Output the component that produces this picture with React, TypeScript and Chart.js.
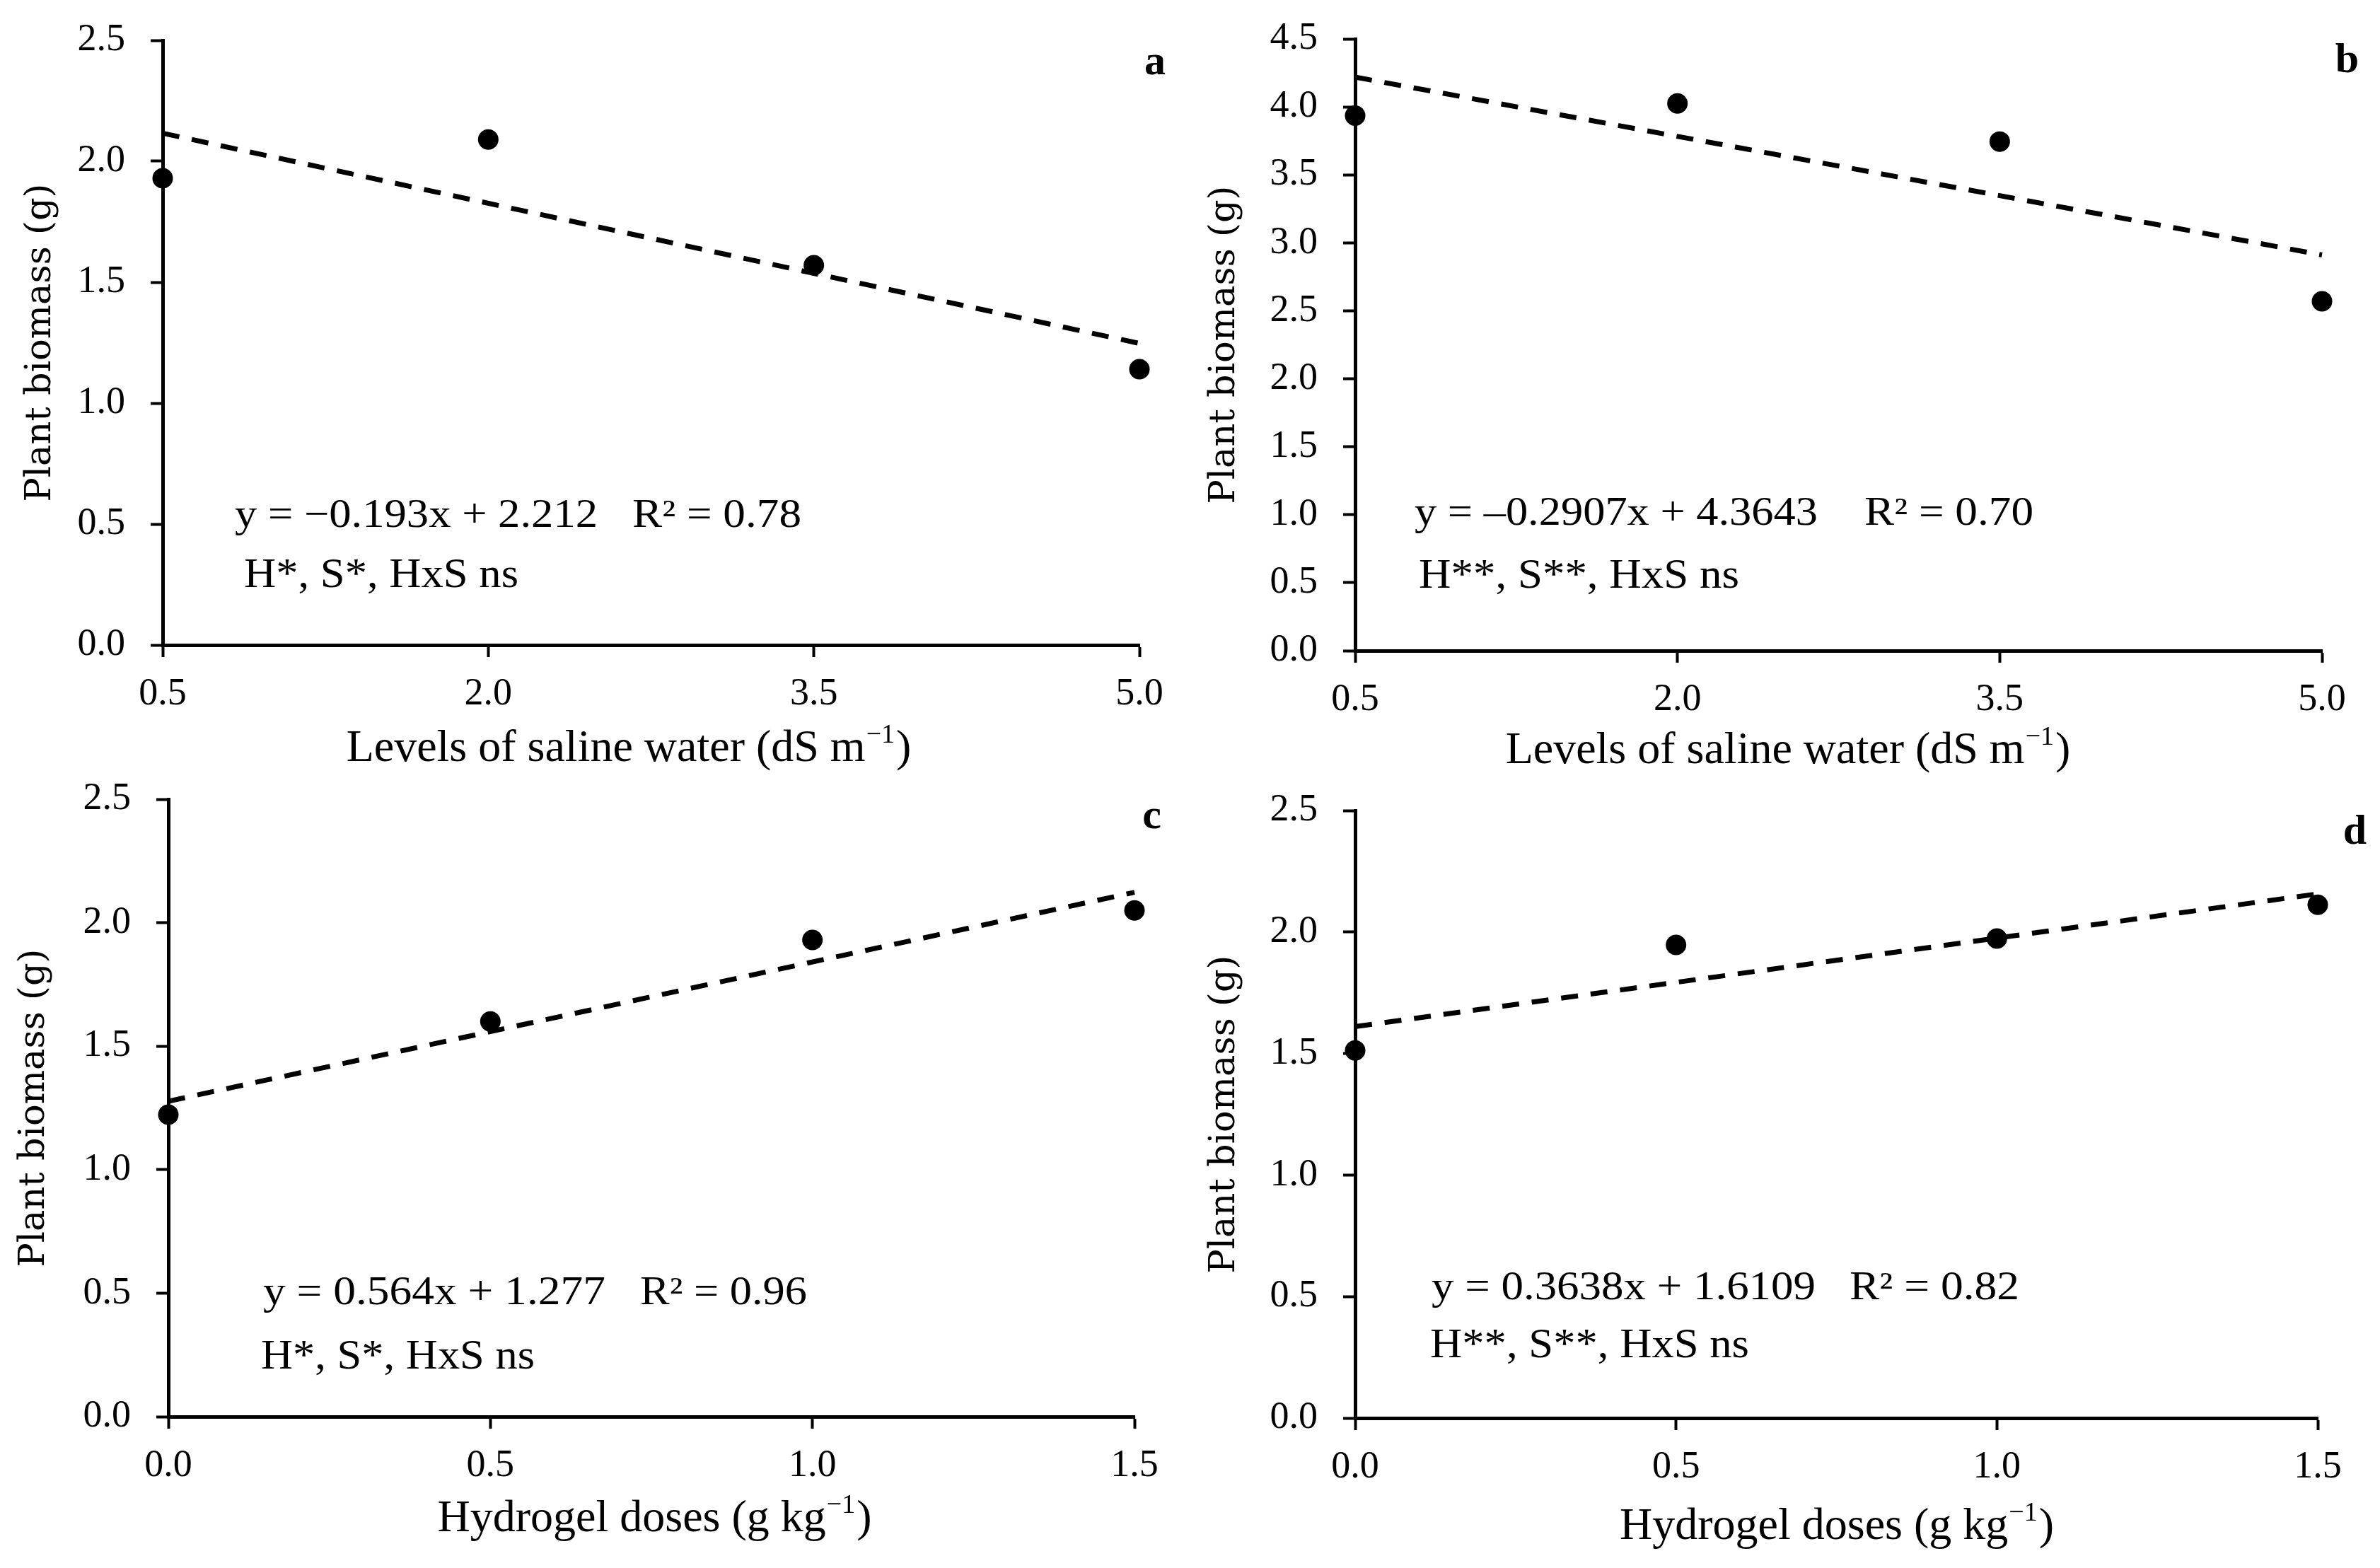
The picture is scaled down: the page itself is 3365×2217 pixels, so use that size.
import Chart from "chart.js/auto";
import { useEffect, useRef } from "react";

const SERIF = "'Liberation Serif', 'Times New Roman', serif";
Chart.defaults.font.family = SERIF;
Chart.defaults.color = "#000";

// saline water levels (panels a, b)
const salineLevels = [0.5, 2.0, 3.5, 5.0];
const biomassA = [1.93, 2.09, 1.57, 1.14];
const biomassB = [3.935, 4.025, 3.745, 2.57];
// dashed fit, read at the first and last level
const trendA = [2.116, 1.247];
const trendB = [4.219, 2.911];

// hydrogel doses (panels c, d)
const hydrogelDoses = [0.0, 0.5, 1.0, 1.5];
const biomassC = [1.223, 1.60, 1.93, 2.05];
const biomassD = [1.513, 1.947, 1.973, 2.112];
const trendC = [1.277, 2.123];
const trendD = [1.611, 2.157];

const yTicksLow = [0, 0.5, 1.0, 1.5, 2.0, 2.5];
const yTicksHigh = [0, 0.5, 1.0, 1.5, 2.0, 2.5, 3.0, 3.5, 4.0, 4.5];

const equations = [
  "y = −0.193x + 2.212",
  "y = –0.2907x + 4.3643",
  "y = 0.564x + 1.277",
  "y = 0.3638x + 1.6109",
];
const r2Labels = ["R² = 0.78", "R² = 0.70", "R² = 0.96", "R² = 0.82"];
const signifLabels = [
  "H*, S*, HxS ns",
  "H**, S**, HxS ns",
  "H*, S*, HxS ns",
  "H**, S**, HxS ns",
];
const panelLetters = ["a", "b", "c", "d"];

type PanelSpec = {
  idx: number;
  box: { left: number; top: number; width: number; height: number };
  area: { left: number; top: number; right: number; axisH: number };
  xs: number[];
  ys: number[];
  trend: number[];
  yTicks: number[];
  yMax: number;
  xTitle: [string, string, string];
  xTitleDx: number;
  xTitleDy: number;
  yTitlePad: number;
  // offsets from the chart area's top-left, and drawn widths
  eq: { x: number; y: number; w: number; r2x: number; r2w: number; sx: number; sy: number; sw: number };
  letter: { dx: number; dy: number };
};

const salineTitle: [string, string, string] = ["Levels of saline water (dS m", "−1", ")"];
const hydrogelTitle: [string, string, string] = ["Hydrogel doses (g kg", "−1", ")"];

const panels: PanelSpec[] = [
  {
    idx: 0,
    box: { left: 0, top: 0, width: 1680, height: 1100 },
    area: { left: 230, top: 57, right: 69, axisH: 188 },
    xs: salineLevels,
    ys: biomassA,
    trend: trendA,
    yTicks: yTicksLow,
    yMax: 2.5,
    xTitle: salineTitle,
    xTitleDx: -32,
    xTitleDy: 164,
    yTitlePad: 27,
    eq: { x: 102, y: 688, w: 513, r2x: 664, r2w: 239, sx: 115, sy: 773, sw: 388 },
    letter: { dx: 37, dy: 48 },
  },
  {
    idx: 1,
    box: { left: 1680, top: 0, width: 1685, height: 1100 },
    area: { left: 236, top: 55, right: 82, axisH: 180 },
    xs: salineLevels,
    ys: biomassB,
    trend: trendB,
    yTicks: yTicksHigh,
    yMax: 4.5,
    xTitle: salineTitle,
    xTitleDx: -72,
    xTitleDy: 159,
    yTitlePad: 21,
    eq: { x: 84, y: 687, w: 570, r2x: 720, r2w: 239, sx: 90, sy: 776, sw: 453 },
    letter: { dx: 52, dy: 47 },
  },
  {
    idx: 2,
    box: { left: 0, top: 1100, width: 1680, height: 1117 },
    area: { left: 238, top: 30, right: 76, axisH: 214 },
    xs: hydrogelDoses,
    ys: biomassC,
    trend: trendC,
    yTicks: yTicksLow,
    yMax: 2.5,
    xTitle: hydrogelTitle,
    xTitleDx: 4,
    xTitleDy: 162,
    yTitlePad: 18,
    eq: { x: 134, y: 714, w: 484, r2x: 667, r2w: 236, sx: 131, sy: 805, sw: 387 },
    letter: { dx: 38, dy: 41 },
  },
  {
    idx: 3,
    box: { left: 1680, top: 1100, width: 1685, height: 1117 },
    area: { left: 236, top: 46, right: 88, axisH: 212 },
    xs: hydrogelDoses,
    ys: biomassD,
    trend: trendD,
    yTicks: yTicksLow,
    yMax: 2.5,
    xTitle: hydrogelTitle,
    xTitleDx: 0,
    xTitleDy: 171,
    yTitlePad: 21,
    eq: { x: 108, y: 691, w: 543, r2x: 699, r2w: 240, sx: 106, sy: 773, sw: 451 },
    letter: { dx: 69, dy: 47 },
  },
];

function fillFitted(
  ctx: CanvasRenderingContext2D,
  text: string,
  x: number,
  y: number,
  font: string,
  width: number,
) {
  ctx.font = font;
  const w = ctx.measureText(text).width || 1;
  ctx.save();
  ctx.translate(x, y);
  ctx.scale(width / w, 1);
  ctx.fillText(text, 0, 0);
  ctx.restore();
}

function drawSupTitle(
  ctx: CanvasRenderingContext2D,
  parts: [string, string, string],
  cx: number,
  baseline: number,
  size: number,
) {
  const big = `${size}px ${SERIF}`;
  const small = `${Math.round(size * 0.6)}px ${SERIF}`;
  ctx.font = big;
  const w1 = ctx.measureText(parts[0]).width;
  const w3 = ctx.measureText(parts[2]).width;
  ctx.font = small;
  const w2 = ctx.measureText(parts[1]).width + 2;
  let x = cx - (w1 + w2 + w3) / 2;
  ctx.textAlign = "left";
  ctx.textBaseline = "alphabetic";
  ctx.font = big;
  ctx.fillText(parts[0], x, baseline);
  x += w1 + 1;
  ctx.font = small;
  ctx.fillText(parts[1], x, baseline - size * 0.4);
  x += w2;
  ctx.font = big;
  ctx.fillText(parts[2], x, baseline);
}

function Panel({ spec }: { spec: PanelSpec }) {
  const canvasRef = useRef<HTMLCanvasElement | null>(null);
  const chartRef = useRef<Chart | null>(null);

  useEffect(() => {
    if (!canvasRef.current) {
      return;
    }
    if (chartRef.current) {
      chartRef.current.destroy();
    }

    const xFirst = spec.xs[0];
    const xLast = spec.xs[spec.xs.length - 1];

    const textPlugin = {
      id: "panelText",
      afterDraw: (chart: Chart) => {
        const { ctx, chartArea } = chart;
        if (!chartArea) {
          return;
        }
        const { left, top, right, bottom } = chartArea;
        const e = spec.eq;
        ctx.save();
        ctx.fillStyle = "#000";
        ctx.textAlign = "left";
        ctx.textBaseline = "alphabetic";

        fillFitted(ctx, equations[spec.idx], left + e.x, top + e.y, `56px ${SERIF}`, e.w);
        fillFitted(ctx, r2Labels[spec.idx], left + e.r2x, top + e.y, `56px ${SERIF}`, e.r2w);
        fillFitted(ctx, signifLabels[spec.idx], left + e.sx, top + e.sy, `60px ${SERIF}`, e.sw);

        ctx.font = `bold 60px ${SERIF}`;
        ctx.textAlign = "right";
        ctx.fillText(panelLetters[spec.idx], right + spec.letter.dx, top + spec.letter.dy);

        drawSupTitle(
          ctx,
          spec.xTitle,
          (left + right) / 2 + spec.xTitleDx,
          bottom + spec.xTitleDy,
          64,
        );
        ctx.restore();
      },
    };

    const gridOpts = {
      display: true,
      drawOnChartArea: false,
      drawTicks: true,
      tickLength: 17,
      tickWidth: 4,
      tickColor: "#000",
      color: "#000",
    };

    chartRef.current = new Chart(canvasRef.current, {
      type: "scatter",
      data: {
        datasets: [
          {
            label: "observed",
            data: spec.xs.map((x, i) => ({ x, y: spec.ys[i] })),
            backgroundColor: "#000",
            borderColor: "#000",
            pointRadius: 14.5,
            pointBorderWidth: 0,
            showLine: false,
            clip: false,
          },
          {
            label: "fit",
            data: [
              { x: xFirst, y: spec.trend[0] },
              { x: xLast, y: spec.trend[1] },
            ],
            borderColor: "#000",
            borderWidth: 7,
            borderDash: [24, 18],
            pointRadius: 0,
            showLine: true,
            clip: false,
          },
        ],
      },
      plugins: [textPlugin],
      options: {
        animation: false,
        responsive: true,
        maintainAspectRatio: false,
        events: [],
        layout: {
          autoPadding: false,
          padding: {
            left: 0,
            top: spec.area.top,
            right: spec.area.right,
            bottom: 0,
          },
        },
        plugins: {
          legend: { display: false },
          tooltip: { enabled: false },
        },
        scales: {
          x: {
            type: "linear",
            min: xFirst,
            max: xLast,
            border: { display: true, color: "#000", width: 5 },
            grid: gridOpts,
            afterBuildTicks: (scale: any) => {
              scale.ticks = spec.xs.map((v) => ({ value: v }));
            },
            afterFit: (scale: any) => {
              scale.height = spec.area.axisH;
              scale.paddingLeft = 0;
              scale.paddingRight = 0;
            },
            ticks: {
              padding: 20,
              font: { size: 54 },
              color: "#000",
              maxRotation: 0,
              callback: (v: any) => Number(v).toFixed(1),
            },
          },
          y: {
            type: "linear",
            min: 0,
            max: spec.yMax,
            border: { display: true, color: "#000", width: 5 },
            grid: gridOpts,
            afterBuildTicks: (scale: any) => {
              scale.ticks = spec.yTicks.map((v) => ({ value: v }));
            },
            afterFit: (scale: any) => {
              scale.width = spec.area.left;
              scale.paddingTop = 0;
              scale.paddingBottom = 0;
            },
            ticks: {
              padding: 36,
              font: { size: 54 },
              color: "#000",
              callback: (v: any) => Number(v).toFixed(1),
            },
            title: {
              display: true,
              text: "Plant biomass (g)",
              color: "#000",
              font: { family: "'DejaVu Serif', serif", size: 51 },
              padding: { top: spec.yTitlePad, bottom: 0 },
            },
          },
        },
      } as any,
    });

    return () => {
      chartRef.current?.destroy();
      chartRef.current = null;
    };
  }, [spec]);

  return (
    <div
      style={{
        position: "absolute",
        left: spec.box.left,
        top: spec.box.top,
        width: spec.box.width,
        height: spec.box.height,
      }}
    >
      <canvas ref={canvasRef} />
    </div>
  );
}

export default function App() {
  return (
    <div
      style={{
        position: "absolute",
        left: 0,
        top: 0,
        width: 3365,
        height: 2217,
        background: "#fff",
        overflow: "hidden",
      }}
    >
      {panels.map((p) => (
        <Panel key={p.idx} spec={p} />
      ))}
    </div>
  );
}
